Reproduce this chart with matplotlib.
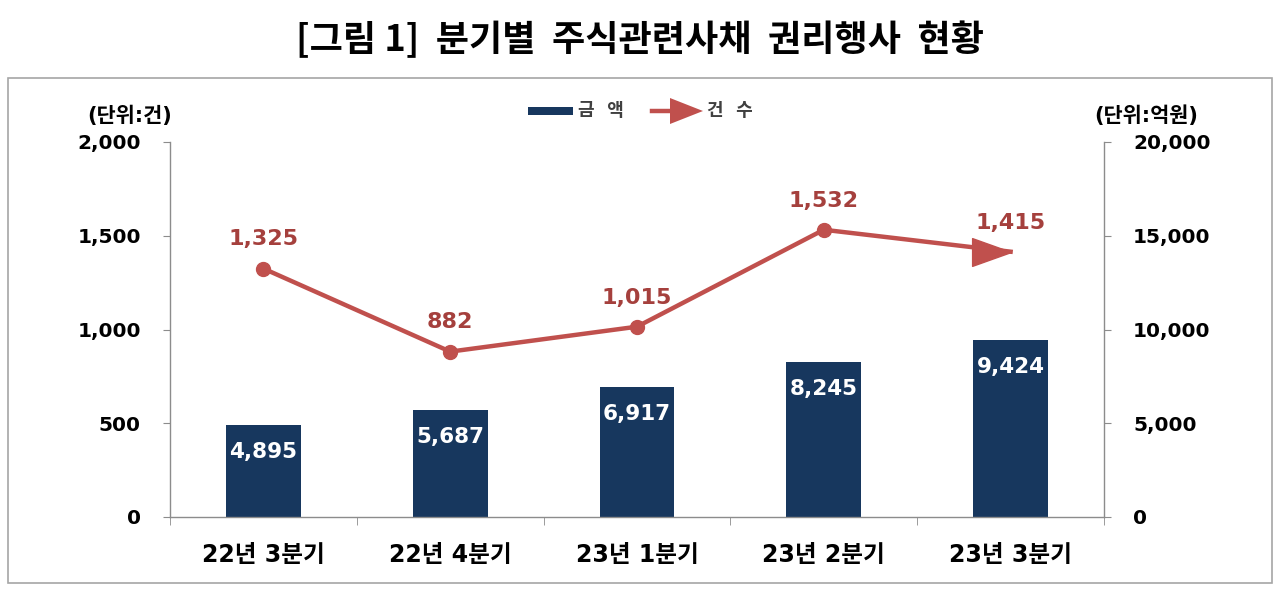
import matplotlib
matplotlib.use("Agg")
import matplotlib.pyplot as plt
from matplotlib.patches import Rectangle, Polygon
from matplotlib.lines import Line2D
from matplotlib.path import Path
import numpy as np

plt.rcParams['font.family'] = ['DejaVu Sans', 'Noto Sans CJK KR']

categories = ["22년 3분기", "22년 4분기", "23년 1분기", "23년 2분기", "23년 3분기"]
amounts = [4895, 5687, 6917, 8245, 9424]      # 금액 (억원), right axis
counts = [1325, 882, 1015, 1532, 1415]        # 건수 (건), left axis
left_ticks = [0, 500, 1000, 1500, 2000]
right_ticks = [0, 5000, 10000, 15000, 20000]

bar_color = "#17375E"
line_color = "#C0504D"
label_red = "#A5403D"
axis_gray = "#8C8C8C"

fig = plt.figure(figsize=(12.8, 5.92), dpi=100)
W, H = 1280, 592

def fx(px):
    return px / W

def fy(py):
    return 1 - py / H

fig.text(0.5, fy(40), "[그림 1]  분기별  주식관련사채  권리행사  현황", ha="center", va="center",
         fontsize=26, fontweight="bold", family=['Noto Sans CJK KR', 'DejaVu Sans'])

fig.patches.append(Rectangle((fx(8), fy(583)), fx(1272) - fx(8), fy(78) - fy(583),
                             transform=fig.transFigure, fill=False, edgecolor="#A6A6A6", lw=1.2))

ax = fig.add_axes([fx(170), fy(517), fx(1104) - fx(170), fy(142) - fy(517)])
ax2 = ax.twinx()
ax.set_zorder(ax2.get_zorder() + 1)
ax.patch.set_visible(False)

x = np.arange(len(categories))
ax2.bar(x, amounts, width=0.4, color=bar_color, zorder=2)
ax2.set_ylim(0, 20000)
ax2.set_yticks(right_ticks)
ax2.set_yticklabels([f"{v:,}" for v in right_ticks], fontsize=14.5, fontweight="bold")
for xi, v in zip(x, amounts):
    ax2.annotate(f"{v:,}", (xi, v), xytext=(0, -19), textcoords="offset points",
                 ha="center", va="center", color="white", fontsize=15.5, fontweight="bold")

arrow_path = Path([(0, 0), (-1.4, 0.5), (-1.4, -0.5), (0, 0)],
                  [Path.MOVETO, Path.LINETO, Path.LINETO, Path.CLOSEPOLY])

ax.plot(x, counts, color=line_color, lw=3.2, zorder=3)
ax.plot(x[:-1], counts[:-1], 'o', color=line_color, ms=10, zorder=4)
ax.plot(x[-1:], counts[-1:], marker=arrow_path, ls='none', color=line_color, ms=56, zorder=4)
for xi, v in zip(x, counts):
    ax.annotate(f"{v:,}", (xi, v), xytext=(0, 21), textcoords="offset points",
                ha="center", va="center", color=label_red, fontsize=16, fontweight="bold")

ax.set_ylim(0, 2000)
ax.set_xlim(-0.5, len(categories) - 0.5)
ax.set_yticks(left_ticks)
ax.set_yticklabels([f"{v:,}" for v in left_ticks], fontsize=14.5, fontweight="bold")
ax.set_xticks(x)
ax.set_xticklabels(categories, fontsize=17, fontweight="bold")
ax.tick_params(axis='x', length=0, pad=19)
ax.set_xticks(np.arange(-0.5, len(categories) + 0.5, 1), minor=True)
ax.tick_params(axis='x', which='minor', length=6, color=axis_gray, direction='out')
ax.tick_params(axis='y', length=5, color=axis_gray, pad=16)
ax2.tick_params(axis='y', length=5, color=axis_gray, pad=16)

for a in (ax, ax2):
    a.spines['top'].set_visible(False)
    for s in ('left', 'right', 'bottom'):
        a.spines[s].set_color(axis_gray)
        a.spines[s].set_linewidth(1.0)
ax.spines['right'].set_visible(False)
ax2.spines['left'].set_visible(False)
ax2.spines['bottom'].set_visible(False)

fig.text(fx(130), fy(116), "(단위:건)", ha="center", va="center", fontsize=15, fontweight="bold")
fig.text(fx(1146), fy(116), "(단위:억원)", ha="center", va="center", fontsize=15, fontweight="bold")

# legend (drawn by hand so the arrow sits at the line end as in the reference)
leg_y = 111
fig.patches.append(Rectangle((fx(528), fy(leg_y + 4)), fx(573) - fx(528), fy(leg_y - 4) - fy(leg_y + 4),
                             transform=fig.transFigure, facecolor=bar_color, edgecolor='none'))
fig.text(fx(578), fy(leg_y), "금  액", ha="left", va="center", fontsize=13, fontweight="bold",
         color="#404040")
fig.add_artist(Line2D([fx(652), fx(672)], [fy(leg_y), fy(leg_y)], transform=fig.transFigure,
                      color=line_color, lw=3.2))
fig.patches.append(Polygon([(fx(703), fy(leg_y)), (fx(670), fy(leg_y - 13)), (fx(670), fy(leg_y + 13))],
                           closed=True, transform=fig.transFigure, facecolor=line_color, edgecolor='none'))
fig.text(fx(707), fy(leg_y), "건  수", ha="left", va="center", fontsize=13, fontweight="bold",
         color="#404040")

fig.savefig("out.png", dpi=100)
